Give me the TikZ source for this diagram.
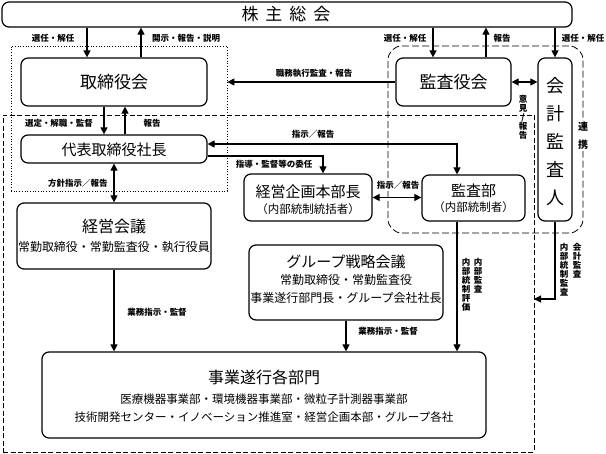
\documentclass[tikz,border=0pt]{standalone}
\usepackage{fontspec}
\setmainfont{Noto Sans CJK JP}
\usetikzlibrary{arrows.meta}
\tikzset{
  box/.style={draw, line width=1.2pt, rounded corners=7pt, inner sep=0pt},
  arr/.style={line width=1.1pt, -{Triangle[length=7pt,width=7pt]}},
  darr/.style={line width=1.1pt, {Triangle[length=7pt,width=7pt]}-{Triangle[length=7pt,width=7pt]}},
  lbl/.style={font=\fontsize{8.5}{9}\selectfont\bfseries, inner sep=0pt},
  vlbl/.style={font=\fontsize{8.5}{9}\selectfont\bfseries, inner sep=0pt, align=center, anchor=north},
  big/.style={font=\fontsize{17}{20}\selectfont, inner sep=0pt},
  mid/.style={font=\fontsize{15}{18}\selectfont, inner sep=0pt},
  sub/.style={font=\fontsize{12}{14}\selectfont, inner sep=0pt},
  small/.style={font=\fontsize{11.5}{13}\selectfont, inner sep=0pt},
}
\begin{document}
\begin{tikzpicture}[x=1pt,y=-1pt]
\useasboundingbox (0,0) rectangle (606,454);
\fill[white] (0,0) rectangle (606,454);

% group frames
\node[draw, dotted, line width=0.7pt, minimum width=216pt, minimum height=145pt, inner sep=0pt] (torigroup) at (119,118.5) {};
\node[draw, dash pattern=on 5pt off 2.5pt, line width=0.8pt, minimum width=531pt, minimum height=337pt, inner sep=0pt] (bigbox) at (268.5,283.5) {};
\node[draw, dash pattern=on 7pt off 3pt, line width=0.8pt, rounded corners=14pt, minimum width=195pt, minimum height=187pt, inner sep=0pt] (renkei) at (485.5,139.5) {};

% boxes
\node[box, minimum width=570pt, minimum height=25pt] (sh) at (287,14.5) {};
\node[font=\fontsize{17}{20}\selectfont, inner sep=0pt] (sht) at (286,14) {株\hspace{7pt}主\hspace{7pt}総\hspace{7pt}会};
\node[box, minimum width=186pt, minimum height=48pt] (tori) at (114,82) {};
\node[big] (torit) at (114,82) {取締役会};
\node[box, minimum width=115pt, minimum height=48pt] (kansa) at (453.5,82) {};
\node[big] (kansat) at (453.5,82) {監査役会};
\node[box, minimum width=34pt, minimum height=163pt] (kaikei) at (555,139.5) {};
\node[font=\fontsize{18}{28}\selectfont, inner sep=0pt, align=center] (kaikeit) at (555,141.5) {会\\計\\監\\査\\人};
\node[box, minimum width=186pt, minimum height=28pt] (daihyo) at (114,149) {};
\node[mid] (daihyot) at (114,150) {代表取締役社長};
\node[box, minimum width=128pt, minimum height=47pt] (keiki) at (308,197.5) {};
\node[mid] (keikit1) at (308,192) {経営企画本部長};
\node[small] (keikit2) at (308,209) {（内部統制統括者）};
\node[box, minimum width=103pt, minimum height=46pt] (kansabu) at (473.5,198) {};
\node[mid] (kansabut1) at (473.5,191) {監査部};
\node[small] (kansabut2) at (473.5,207) {（内部統制者）};
\node[box, minimum width=194pt, minimum height=66pt] (keiei) at (114,236) {};
\node[font=\fontsize{16}{18}\selectfont, inner sep=0pt] (keieit1) at (114,226) {経営会議};
\node[sub] (keieit2) at (114,247) {常勤取締役・常勤監査役・執行役員};
\node[box, minimum width=194pt, minimum height=75pt] (group) at (346,282.5) {};
\node[mid] (groupt1) at (346,262) {グループ戦略会議};
\node[sub] (groupt2) at (346,280) {常勤取締役・常勤監査役};
\node[sub] (groupt3) at (346,298) {事業遂行部門長・グループ会社社長};
\node[box, minimum width=444pt, minimum height=86pt] (jigyo) at (264,395) {};
\node[font=\fontsize{16}{18}\selectfont, inner sep=0pt] (jigyot1) at (264,377) {事業遂行各部門};
\node[small] (jigyot2) at (264,399) {医療機器事業部・環境機器事業部・微粒子計測器事業部};
\node[small] (jigyot3) at (264,417) {技術開発センター・イノベーション推進室・経営企画本部・グループ各社};

% connectors top
\draw[arr] ([xshift=-27pt]tori.north |- sh.south) -- ([xshift=-27pt]tori.north);
\draw[arr] ([xshift=27pt]tori.north) -- ([xshift=27pt]tori.north |- sh.south);
\draw[arr] ([xshift=-20.5pt]kansa.north |- sh.south) -- ([xshift=-20.5pt]kansa.north);
\draw[arr] ([xshift=32.5pt]kansa.north) -- ([xshift=32.5pt]kansa.north |- sh.south);
\draw[arr] (kaikei.north |- sh.south) -- (kaikei.north);
\node[lbl] (l1) at (53,38) {選任・解任};
\node[lbl] (l2) at (186,38) {開示・報告・説明};
\node[lbl] (l3) at (405,38) {選任・解任};
\node[lbl] (l4) at (502,38) {報告};
\node[lbl] (l5) at (583,38) {選任・解任};

\draw[darr] (kansa.east) -- (kansa.east -| kaikei.west);
\node[vlbl] (l6) at (523,95) {意\\見\\{\rotatebox{0}{/}}\\報\\告};
\draw[arr] (kansa.west) -- (kansa.west -| torigroup.east);
\node[lbl] (l7) at (314,73) {職務執行監査・報告};

\draw[arr] ([xshift=-10pt]tori.south) -- ([xshift=-10pt]tori.south |- daihyo.north);
\draw[arr] ([xshift=11pt]daihyo.north) -- ([xshift=11pt]daihyo.north |- tori.south);
\node[lbl] (l8) at (59,123) {選定・解職・監督};
\node[lbl] (l9) at (152,123) {報告};

\draw[darr] ([yshift=5pt]daihyo.east) -| ([xshift=-16.5pt]kansabu.north);
\node[lbl] (l10) at (313,134) {指示／報告};
\draw[arr] ([yshift=-7pt]daihyo.east) -| ([xshift=15pt]keiki.north);
\node[lbl] (l11) at (274,164) {指導・監督等の委任};
\draw[darr] (keiki.east) -- (keiki.east -| kansabu.west);
\node[lbl] (l12) at (398,185) {指示／報告};

\draw[darr] (daihyo.south) -- (keiei.north);
\node[lbl] (l13) at (78,183) {方針指示／報告};
\draw[arr] (keiei.south) -- (keiei.south |- jigyo.north);
\node[lbl] (l14) at (157,312) {業務指示・監督};
\draw[arr] (group.south) -- (group.south |- jigyo.north);
\node[lbl] (l15) at (388,331) {業務指示・監督};
\draw[arr] ([xshift=-16.5pt]kansabu.south) -- ([xshift=-16.5pt]kansabu.south |- jigyo.north);
\node[vlbl] (l16) at (478,258) {内\\部\\監\\査};
\node[vlbl] (l17) at (466,258) {内\\部\\統\\制\\評\\価};

\coordinate (kk) at (534,299);
\draw[arr] (kaikei.south) -- (kaikei.south |- kk) -- (kk);
\node[vlbl] (l18) at (577,243) {会\\計\\監\\査};
\node[vlbl] (l19) at (564,243) {内\\部\\統\\制\\監\\査};

\node[fill=white, font=\fontsize{10}{18}\selectfont\bfseries, inner sep=1pt, align=center] (l20) at (583,136) {連\\携};
\end{tikzpicture}
\end{document}
